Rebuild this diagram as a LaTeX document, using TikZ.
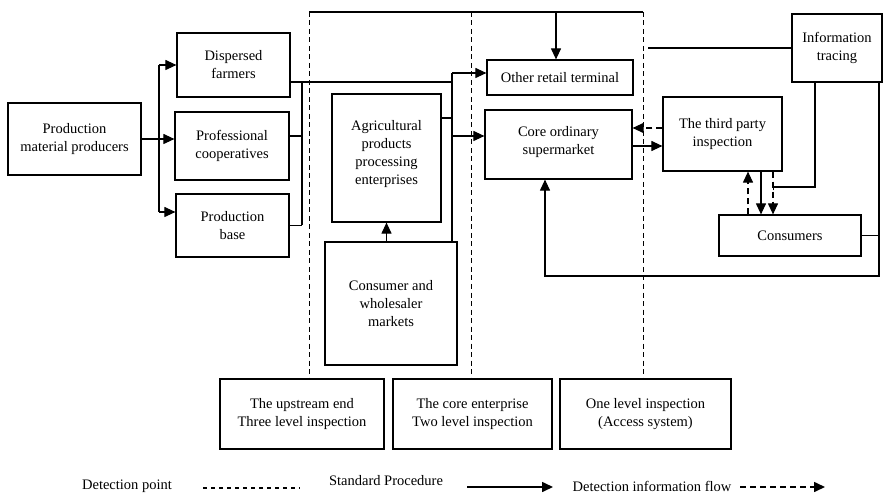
\documentclass[tikz,border=0pt]{standalone}
\usepackage{fontspec}
\setmainfont{Liberation Serif}
\usetikzlibrary{arrows.meta}
\begin{document}
\begin{tikzpicture}[x=1pt,y=-1pt, line width=1.1pt,
  font=\fontsize{14.5}{18}\selectfont,
  box/.style={draw, rectangle, align=center, inner sep=0pt, line width=1.2pt, fill=white},
  arr/.style={-{Triangle[length=11pt,width=10pt]}},
  det/.style={dash pattern=on 5pt off 3.5pt, line width=1pt},
  flow/.style={dash pattern=on 6pt off 4pt}]
\useasboundingbox (0,0) rectangle (883,494);

% nodes
\node[box, minimum width=133pt, minimum height=72pt] (prod) at (74.5,139) {Production\\material producers};
\node[box, minimum width=113pt, minimum height=64pt] (farm) at (233.5,65) {Dispersed\\farmers};
\node[box, minimum width=114pt, minimum height=68pt] (coop) at (232,146) {Professional\\cooperatives};
\node[box, minimum width=113pt, minimum height=63pt] (base) at (232.5,225.5) {Production\\base};
\node[box, minimum width=109pt, minimum height=128pt] (agri) at (386.5,158) {Agricultural\\products\\processing\\enterprises\\[-6pt]};
\node[box, minimum width=132pt, minimum height=123pt] (cwm) at (391,303.5) {Consumer and\\wholesaler\\markets};
\node[box, minimum width=146pt, minimum height=35pt] (other) at (560,77.5) {Other retail terminal};
\node[box, minimum width=147pt, minimum height=69pt] (core) at (558.5,144.5) {Core ordinary\\supermarket\\[-10pt]};
\node[box, minimum width=90pt, minimum height=68pt] (info) at (837,48) {Information\\tracing};
\node[box, minimum width=119pt, minimum height=74pt] (third) at (722.5,134) {The third party\\inspection};
\node[box, minimum width=142pt, minimum height=41pt] (cons) at (790,235.5) {Consumers};
\node[box, minimum width=164pt, minimum height=70pt] (up) at (302,414) {The upstream end\\Three level inspection};
\node[box, minimum width=159pt, minimum height=70pt] (coreent) at (472.5,414) {The core enterprise\\Two level inspection};
\node[box, minimum width=171pt, minimum height=70pt] (one) at (645.5,414) {One level inspection\\(Access system)};

% left fan-out
\coordinate (j1) at (159,0);
\coordinate (bA) at ([yshift=13.5pt]base.west);
\draw[arr] (prod.east) -- (prod.east -| coop.west);
\draw (j1 |- farm.west) -- (j1 |- bA);
\draw[arr] (j1 |- farm.west) -- (farm.west);
\draw[arr] (j1 |- bA) -- (bA);

% right bus of producers
\coordinate (j2) at (302,0);
\coordinate (j3) at (452,0);
\coordinate (fE) at ([yshift=-17pt]farm.east);
\coordinate (cE) at ([yshift=10pt]coop.east);
\draw (fE) -- (j3 |- fE);
\draw (cE) -- (j2 |- cE);
\draw (base.east) -- (j2 |- base.east);
\draw (j2 |- fE) -- (j2 |- base.east);

% bus to retail
\coordinate (oW) at ([yshift=4.5pt]other.west);
\coordinate (kW) at ([yshift=8.5pt]core.west);
\coordinate (aE) at ([yshift=40pt]agri.east);
\draw (j3 |- oW) -- (j3 |- cwm.north);
\draw[arr] (j3 |- oW) -- (oW);
\draw[arr] (j3 |- kW) -- (kW);
\draw (aE) -- (j3 |- aE);
\draw[arr] (agri.south |- cwm.north) -- (agri.south);

% top line and detection point lines
\coordinate (t1) at (309,12);
\coordinate (t2) at (471,12);
\coordinate (t3) at (643,12);
\draw (t1) -- (t3);
\draw[det] (t1) -- (t1 |- up.north);
\draw[det] (t2) -- (t2 |- up.north);
\draw[det] (t3) -- (t3 |- one.north);
\coordinate (oN) at ([xshift=-4pt]other.north);
\draw[arr] (oN |- t1) -- (oN);

% information tracing
\coordinate (iEnd) at (648,0);
\draw (info.west) -- (iEnd |- info.west);

% core <-> third party
\coordinate (kE) at ([yshift=-1.5pt]core.east);
\draw[arr] (kE) -- (kE -| third.west);
\coordinate (tW) at ([yshift=6pt]third.west);
\draw[arr,flow] (tW) -- (tW -| core.east);

% third party <-> consumers
\coordinate (s1) at ([xshift=25.5pt]third.south);
\coordinate (s2) at ([xshift=38.5pt]third.south);
\coordinate (s3) at ([xshift=50.5pt]third.south);
\draw[arr,flow] (s1 |- cons.north) -- (s1);
\draw[arr] (s2) -- (s2 |- cons.north);
\draw[arr,flow] (s3) -- (s3 |- cons.north);
\coordinate (iB) at ([xshift=-22pt]info.south);
\coordinate (ky) at (0,187);
\draw[-{Bar[width=7pt,line width=1.1pt]}] (iB) |- (s3 |- ky);

% feedback loop
\coordinate (rx) at (879,0);
\coordinate (by) at (0,276);
\coordinate (kS) at ([xshift=-13.5pt]core.south);
\draw (cons.east) -- (rx |- cons.east);
\draw[arr] (rx |- info.south) -- (rx |- by) -| (kS);

% legend
\node (lg1) at (127,486) {Detection point};
\node (lg2) at (386,481) {Standard Procedure};
\node (lg3) at (652,486) {Detection information flow};
\coordinate (l1a) at (203,488);
\coordinate (l1b) at (300,488);
\coordinate (l2a) at (467,487);
\coordinate (l2b) at (553,487);
\coordinate (l3a) at (740,487);
\coordinate (l3b) at (825,487);
\draw[dash pattern=on 4pt off 4pt] (l1a) -- (l1b);
\draw[arr, line width=1.6pt] (l2a) -- (l2b);
\draw[arr, flow, line width=1.6pt] (l3a) -- (l3b);
\end{tikzpicture}
\end{document}
